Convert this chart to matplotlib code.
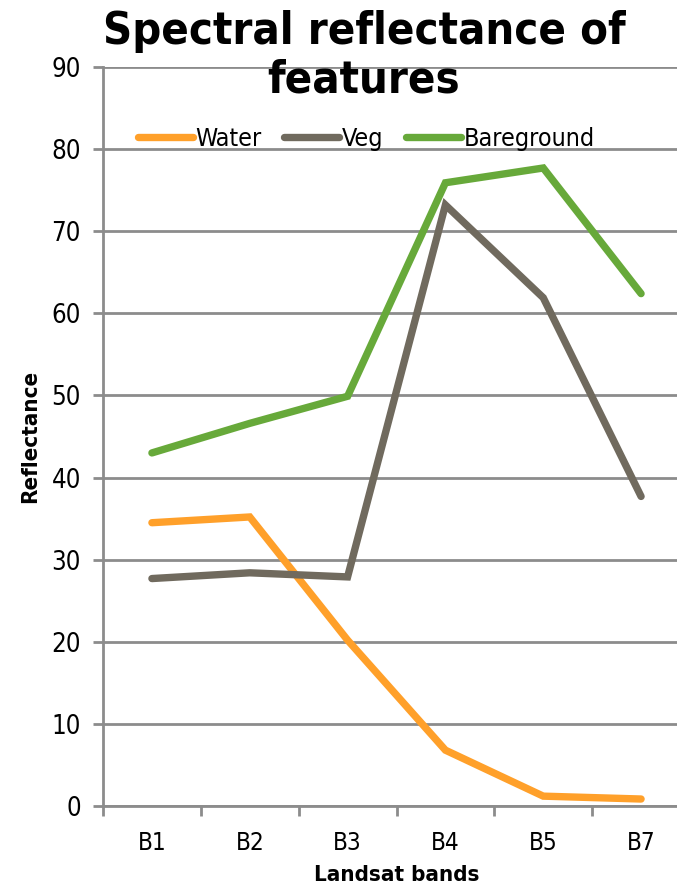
import matplotlib
matplotlib.use('Agg')
import matplotlib.pyplot as plt

bands = ['B1', 'B2', 'B3', 'B4', 'B5', 'B7']
water = [34.5, 35.2, 20.2, 6.8, 1.2, 0.85]
veg = [27.7, 28.4, 27.9, 73.2, 61.9, 37.7]
bareground = [43.0, 46.6, 49.9, 75.9, 77.7, 62.4]

plt.rcParams['font.family'] = 'DejaVu Sans'
plt.rcParams['font.stretch'] = 'condensed'

fig = plt.figure(figsize=(6.77, 8.89), dpi=100)
W, H = 677, 889
left, right, top, bottom = 103, 690, 67, 806
ax = fig.add_axes([left / W, 1 - bottom / H, (right - left) / W, (bottom - top) / H])

x = list(range(len(bands)))
style = dict(lw=5.3, solid_capstyle='round', solid_joinstyle='miter')
ax.plot(x, water, color='#FFA02A', label='Water', **style)
ax.plot(x, veg, color='#706A5E', label='Veg', **style)
ax.plot(x, bareground, color='#67A93A', label='Bareground', **style)

ax.set_xlim(-0.5, len(bands) - 0.5)
ax.set_ylim(0, 90)
ax.set_yticks(range(0, 91, 10))
ax.set_xticks([i - 0.5 for i in range(len(bands) + 1)], minor=False)
ax.set_xticklabels([])
ax.set_xticks(x, minor=True)
ax.set_xticklabels(bands, minor=True)
ax.tick_params(axis='x', which='minor', length=0, pad=18, labelsize=17.5)
ax.tick_params(axis='x', which='major', length=7, width=2, color='#8C8C8C')
ax.tick_params(axis='y', length=7, width=2, color='#8C8C8C', labelsize=18.5, pad=9)

ax.yaxis.grid(True, color='#8C8C8C', lw=2)
ax.set_axisbelow(True)
for s in ['top', 'right']:
    ax.spines[s].set_visible(False)
for s in ['left', 'bottom']:
    ax.spines[s].set_color('#8C8C8C')
    ax.spines[s].set_linewidth(2)

ax.set_xlabel('Landsat bands', fontsize=16, fontweight='bold', labelpad=7)
ax.set_ylabel('Reflectance', fontsize=16, fontweight='bold', labelpad=8)

fig.text(364 / W, 1 - 56 / H, 'Spectral reflectance of\nfeatures', ha='center', va='center',
         fontsize=32.5, fontweight='bold', linespacing=1.15)

fig.legend(loc='center left', bbox_to_anchor=(138 / W, 1 - 139 / H), ncol=3, frameon=False,
           fontsize=18, handlelength=2.2, handletextpad=0.1, columnspacing=0.9,
           borderaxespad=0, borderpad=0)

fig.savefig('out.png', dpi=100)
